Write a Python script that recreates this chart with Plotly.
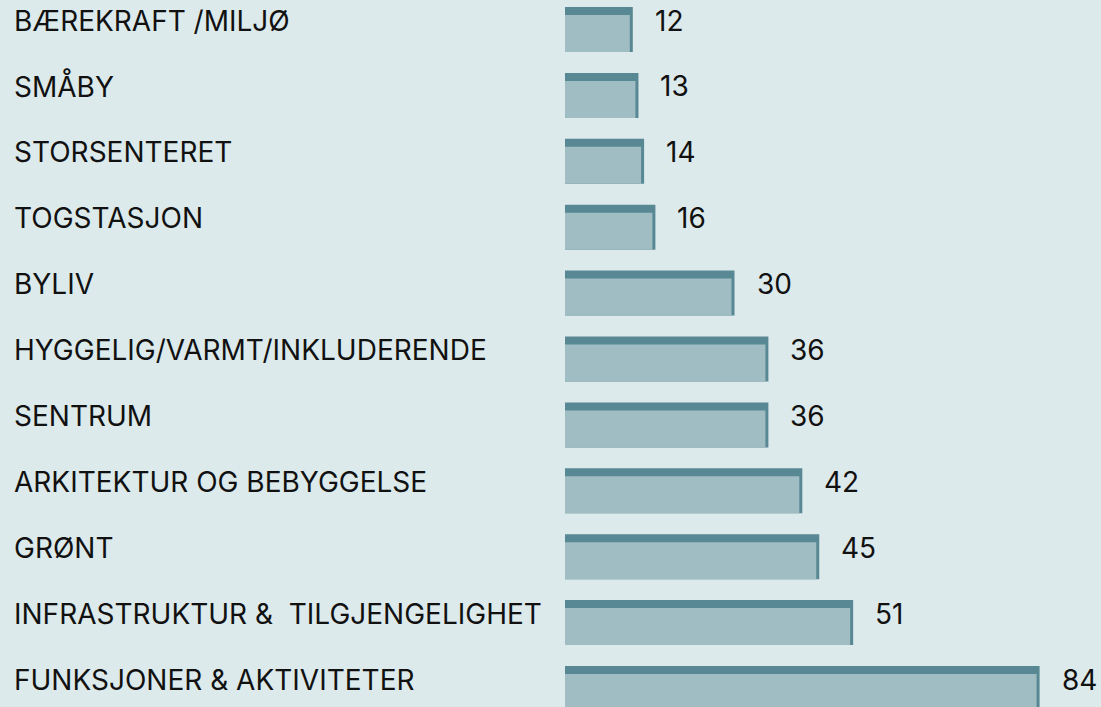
import plotly.graph_objects as go

categories = [
    "BÆREKRAFT /MILJØ",
    "SMÅBY",
    "STORSENTERET",
    "TOGSTASJON",
    "BYLIV",
    "HYGGELIG/VARMT/INKLUDERENDE",
    "SENTRUM",
    "ARKITEKTUR OG BEBYGGELSE",
    "GRØNT",
    "INFRASTRUKTUR &  TILGJENGELIGHET",
    "FUNKSJONER & AKTIVITETER",
]
values = [12, 13, 14, 16, 30, 36, 36, 42, 45, 51, 84]

BG = "#ddeaeb"
DARK = "#588893"
LIGHT = "#a0bdc4"
FONT = "Inter"
FSIZE = 28

W, H = 1101, 707
LEFT = 565
PX_PER_UNIT = 5.65
ROW = 65.9
BAR_PX = 45
TOP_PX = 8
EDGE_PX = 3

xmax = (W - LEFT) / PX_PER_UNIT
pos = list(range(len(categories)))
bw = BAR_PX / ROW
top = TOP_PX / ROW
edge = EDGE_PX / PX_PER_UNIT

fig = go.Figure()
# dark full bar (top stripe + right edge)
fig.add_trace(go.Bar(
    x=values, y=pos, orientation="h", width=bw,
    marker=dict(color=DARK, line=dict(width=0)), hoverinfo="skip",
))
# lighter body
fig.add_trace(go.Bar(
    x=[v - edge for v in values], y=pos, orientation="h",
    width=bw - top, offset=-bw / 2 + top,
    marker=dict(color=LIGHT, line=dict(width=0)), hoverinfo="skip",
))

annotations = []
for i, (c, v) in enumerate(zip(categories, values)):
    annotations.append(dict(
        x=(12 - LEFT) / (W - LEFT), xref="paper", y=i, yref="y",
        text=c, showarrow=False, xanchor="left", yanchor="middle", yshift=9,
        font=dict(family=FONT, size=FSIZE, color="#111111"),
    ))
    annotations.append(dict(
        x=v, xref="x", y=i, yref="y", text=str(v), showarrow=False,
        xanchor="left", yanchor="middle", xshift=20, yshift=9,
        font=dict(family=FONT, size=FSIZE, color="#111111"),
    ))

y_top = -(BAR_PX / 2 + 7) / ROW
y_bot = y_top + H / ROW

fig.update_layout(
    width=W, height=H,
    margin=dict(l=LEFT, r=0, t=0, b=0),
    paper_bgcolor=BG, plot_bgcolor=BG,
    barmode="overlay", showlegend=False,
    xaxis=dict(range=[0, xmax], visible=False, fixedrange=True),
    yaxis=dict(range=[y_bot, y_top], visible=False, fixedrange=True),
    annotations=annotations,
)

fig.write_html(
    "out.html",
    config={"displayModeBar": False},
    post_script="document.body.style.margin='0';document.body.style.overflow='hidden';document.body.style.background='" + BG + "';",
)
